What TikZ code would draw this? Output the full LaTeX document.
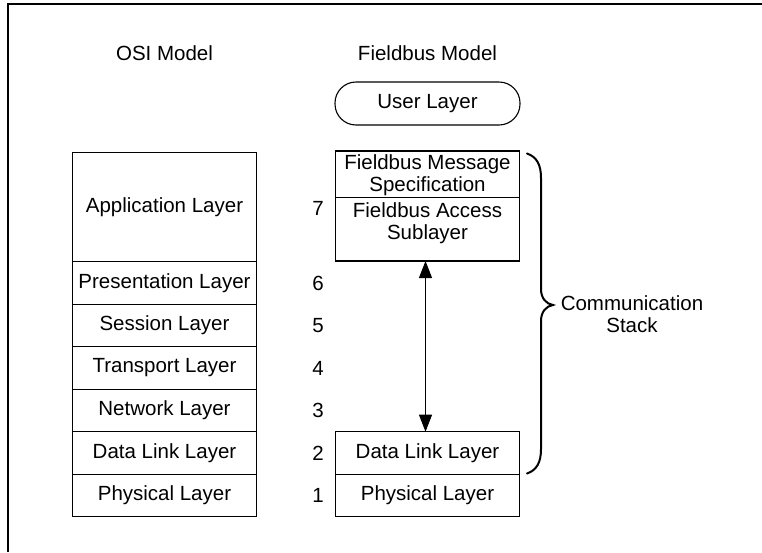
\documentclass[tikz,border=0pt]{standalone}
\usepackage{fontspec}
\setmainfont{Liberation Sans}
\usetikzlibrary{arrows.meta}
\begin{document}
\begin{tikzpicture}[x=1pt,y=-1pt,
  every node/.style={font=\fontsize{20.5}{21.5}\selectfont, inner sep=0pt, outer sep=0pt},
  layerbox/.style={draw, line width=1.1pt, anchor=north west, minimum width=184.4pt, align=center},
  lbl/.style={align=center},
  num/.style={},
  brc/.style={line width=2pt, line cap=round},
  frame/.style={line width=1.8pt},
  dbl/.style={line width=1pt, {Triangle[length=17pt,width=13pt]}-{Triangle[length=17pt,width=13pt]}}
]
\useasboundingbox (0,0) rectangle (762,552);
\draw[frame] (8.3,552) -- (8.3,4) -- (762,4);

% titles
\node (osititle) at (164.5,53) {OSI Model};
\node (fbtitle) at (427.5,53) {Fieldbus Model};

% OSI column
\node[layerbox, minimum height=109pt] (app) at (72.3,152.7) {Application Layer};
\node[layerbox, minimum height=42.5pt] (pres) at (72.3,261.7) {Presentation Layer};
\node[layerbox, minimum height=42.5pt] (sess) at (72.3,304.2) {Session Layer};
\node[layerbox, minimum height=42.5pt] (trans) at (72.3,346.7) {Transport Layer};
\node[layerbox, minimum height=42.5pt] (net) at (72.3,389.2) {Network Layer};
\node[layerbox, minimum height=42.5pt] (dl) at (72.3,431.7) {Data Link Layer};
\node[layerbox, minimum height=42.5pt] (phy) at (72.3,474.2) {Physical Layer};

% numbers
\node[num] (n7) at (318,208) {7};
\node[num] (n6) at (318,283) {6};
\node[num] (n5) at (318,325.5) {5};
\node[num] (n4) at (318,368) {4};
\node[num] (n3) at (318,410.5) {3};
\node[num] (n2) at (318,453) {2};
\node[num] (n1) at (318,495.5) {1};

% Fieldbus column
\node[draw, line width=1.1pt, rounded corners=21pt, minimum width=185pt, minimum height=43pt] (user) at (427.5,103.5) {User Layer};
\node[layerbox, minimum width=183.6pt, minimum height=46.3pt] (fms) at (335.7,151) {};
\node[lbl] (fmstxt) at ([yshift=-1pt]fms.center) {Fieldbus Message\\Specification};
\node[layerbox, minimum width=183.6pt, minimum height=63.7pt] (fas) at (335.7,197.3) {};
\node[lbl] (fastxt) at (427.5,223) {Fieldbus Access\\Sublayer};
\node[layerbox, minimum width=183.6pt, minimum height=42.5pt] (fdl) at (335.7,431.7) {Data Link Layer};
\node[layerbox, minimum width=183.6pt, minimum height=42.5pt] (fphy) at (335.7,474.2) {Physical Layer};

% arrow
\coordinate (ax) at (425.5,0);
\draw[dbl] (fas.south -| ax) -- (fdl.north -| ax);

% brace
\draw[brc] (527,153.5) .. controls (537,157) and (541,165) .. (541,178)
  -- (541,289) .. controls (541,298) and (546,304) .. (553,305)
  .. controls (546,306) and (541,312) .. (541,321)
  -- (541,449) .. controls (541,462) and (537,470) .. (527,473.5);
\node[lbl] (comm) at (632,314) {Communication\\Stack};
\end{tikzpicture}
\end{document}
